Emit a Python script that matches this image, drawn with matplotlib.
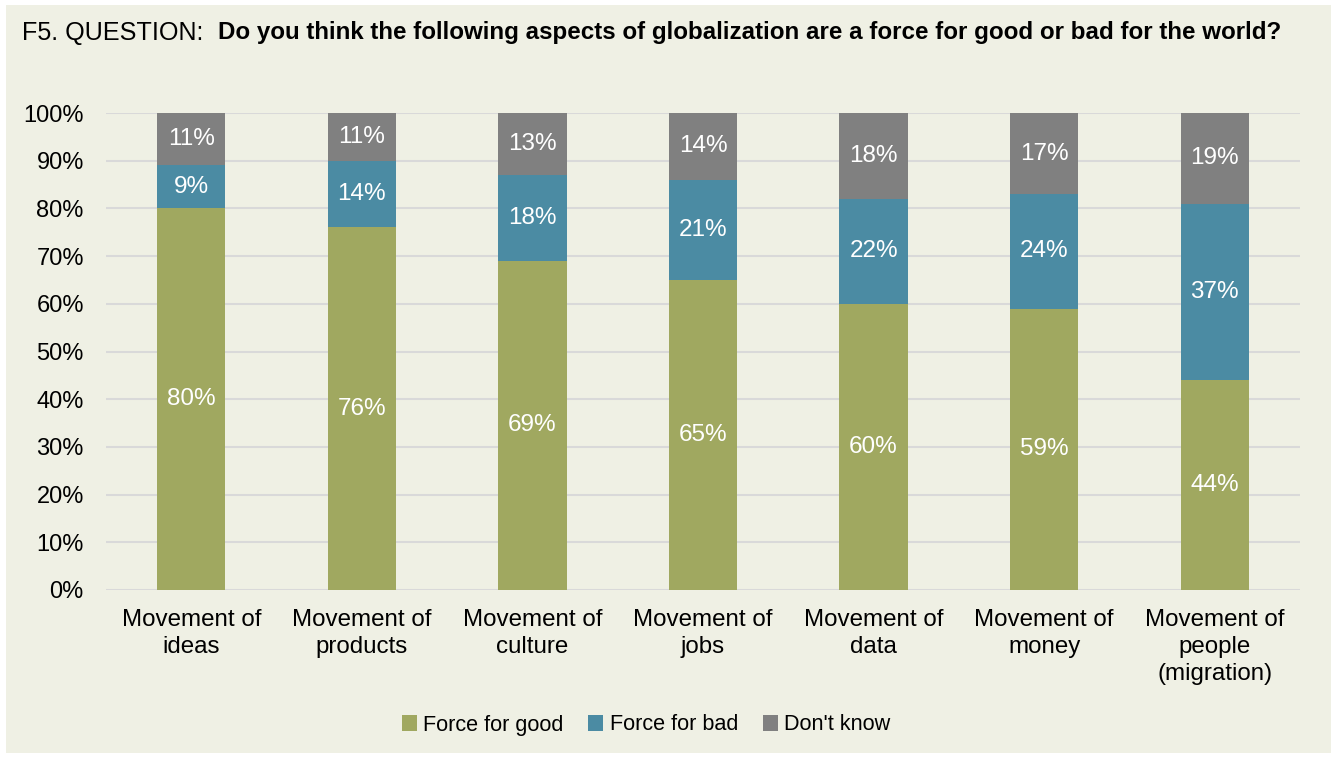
import matplotlib
matplotlib.use("Agg")
import matplotlib.pyplot as plt
from matplotlib.patches import Rectangle
import numpy as np

plt.rcParams['font.family'] = ['Liberation Sans', 'DejaVu Sans']

categories = ["Movement of\nideas", "Movement of\nproducts", "Movement of\nculture",
              "Movement of\njobs", "Movement of\ndata", "Movement of\nmoney",
              "Movement of\npeople\n(migration)"]
force_good = [80, 76, 69, 65, 60, 59, 44]
force_bad = [9, 14, 18, 21, 22, 24, 37]
dont_know = [11, 11, 13, 14, 18, 17, 19]
series_names = ["Force for good", "Force for bad", "Don't know"]
colors = ["#A0A860", "#4B8BA3", "#808080"]
bg = "#EFF0E4"

W, H = 1335, 758
fig = plt.figure(figsize=(W / 100, H / 100), dpi=100)
fig.patch.set_facecolor("white")
fig.patches.append(Rectangle((6 / W, 1 - 753 / H), (1331 - 6) / W, (753 - 5) / H,
                             transform=fig.transFigure, facecolor=bg,
                             edgecolor="none", zorder=-10))

ax = fig.add_axes([106 / W, 1 - 590 / H, (1300 - 106) / W, (590 - 113) / H])
ax.set_facecolor("none")

x = np.arange(len(categories))
bottom = np.zeros(len(categories))
for vals, name, col in zip([force_good, force_bad, dont_know], series_names, colors):
    vals = np.array(vals, dtype=float)
    ax.bar(x, vals, width=0.4, bottom=bottom, color=col, label=name, zorder=2)
    for xi, b, v in zip(x, bottom, vals):
        top = min(b + v, 100)
        ax.text(xi, (b + top) / 2, f"{int(v)}%", ha="center", va="center",
                color="white", fontsize=17.5, zorder=3)
    bottom += vals

ax.set_xlim(-0.5, len(categories) - 0.5)
ax.set_ylim(0, 100)
ax.set_yticks(np.arange(0, 101, 10))
ax.set_yticklabels([f"{v}%" for v in range(0, 101, 10)], fontsize=17)
ax.set_xticks(x)
ax.set_xticklabels(categories, fontsize=17.4, linespacing=1.28)
ax.tick_params(axis="both", length=0, colors="black")
ax.tick_params(axis="y", pad=16)
ax.tick_params(axis="x", pad=14)
ax.grid(axis="y", color="#D9D9D9", linewidth=1.5, zorder=1)
ax.set_axisbelow(True)
for s in ax.spines.values():
    s.set_visible(False)

fig.text(22 / W, 1 - 33 / H, "F5. QUESTION:", fontsize=18.1, va="center", ha="left")
fig.text(218 / W, 1 - 33 / H,
         "Do you think the following aspects of globalization are a force for good or bad for the world?",
         fontsize=17.38, fontweight="bold", va="center", ha="left")

fig.legend(loc="center", bbox_to_anchor=(646 / W, 1 - 725 / H), ncol=3,
           frameon=False, fontsize=15.6, handlelength=0.7, handleheight=0.7,
           handletextpad=0.3, columnspacing=1.13)

fig.savefig("out.png", dpi=100, facecolor=fig.get_facecolor())
